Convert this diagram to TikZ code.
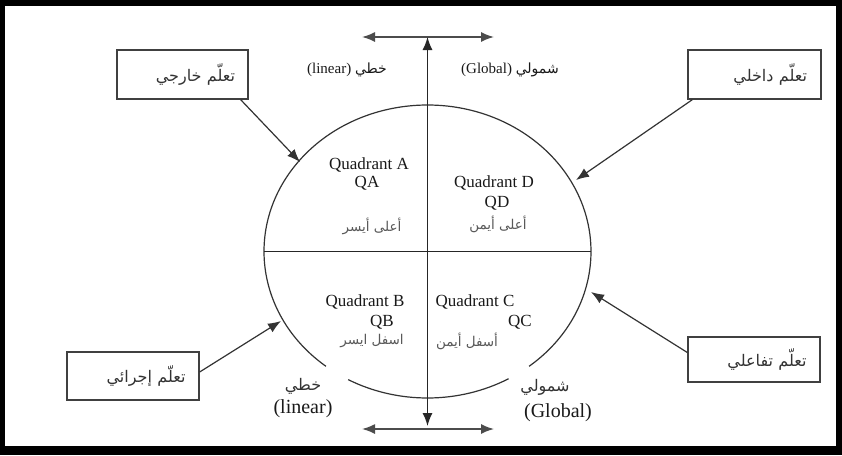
\documentclass[tikz,border=0pt]{standalone}
\usepackage{fontspec}
\setmainfont{Liberation Serif}
\newfontfamily\arabicfont[Script=Arabic]{DejaVu Sans}
\TeXXeTstate=1
\usetikzlibrary{arrows.meta}
\newcommand{\artxt}[1]{{\arabicfont\beginR #1\endR}}
\begin{document}
\begin{tikzpicture}[x=1pt,y=-1pt,
  lbox/.style={draw=black!75, line width=1.3pt, minimum height=49pt, text width=105pt,
    align=right, inner sep=0pt, font=\fontsize{16}{18}\selectfont, text=black!80},
  conn/.style={draw=black!80, line width=1.2pt, -{Latex[length=13pt,width=10pt]}},
  axis/.style={draw=black!85, line width=1.4pt},
  dbl/.style={draw=black!70, line width=1.6pt, {Latex[length=13pt,width=10pt]}-{Latex[length=13pt,width=10pt]}},
  quad/.style={font=\fontsize{17}{19}\selectfont, text=black!90, inner sep=0pt},
  qar/.style={font=\fontsize{13.5}{15}\selectfont, text=black!65, inner sep=0pt},
  toplab/.style={font=\fontsize{15}{17}\selectfont, text=black!90, inner sep=0pt},
  botlab/.style={font=\fontsize{20}{22}\selectfont, text=black!90, inner sep=0pt},
  botar/.style={font=\fontsize{16}{18}\selectfont, text=black!80, inner sep=0pt}]
% frame
\fill[black] (0,0) rectangle (842,455);
\fill[white] (5,6) rectangle (836,446);
\useasboundingbox (0,0) rectangle (842,455);
% ellipse
\coordinate (c) at (427.5,251.5);
\draw[black!80, line width=1.2pt] (c) ++(128.4:163.5 and 146.5)
  arc[start angle=128.4, end angle=411.6, x radius=163.5, y radius=146.5];
\draw[black!80, line width=1.2pt] (c) ++(60.3:163.5 and 146.5)
  arc[start angle=60.3, end angle=119, x radius=163.5, y radius=146.5];
% horizontal divider
\coordinate (hl) at (264,251.5);
\coordinate (hr) at (591,251.5);
\draw[axis] (hl) -- (hr);
% double arrows
\coordinate (tl) at (362,37);
\coordinate (tr) at (494,37);
\coordinate (bl) at (362,429);
\coordinate (br) at (494,429);
\draw[dbl] (tl) -- (tr);
\draw[dbl] (bl) -- (br);
% vertical axis
\coordinate (vt) at (427.5,37);
\coordinate (vb) at (427.5,426);
\draw[axis, {Latex[length=13pt,width=10pt]}-{Latex[length=13pt,width=10pt]}] (vt) -- (vb);
% boxes
\node[lbox, minimum width=131pt] (ext) at (182.5,74.5) {\artxt{تعلّم خارجي}};
\node[lbox, minimum width=133pt] (int) at (754.5,74.5) {\artxt{تعلّم داخلي}};
\node[lbox, minimum width=132pt, minimum height=48pt] (proc) at (133,376) {\artxt{تعلّم إجرائي}};
\node[lbox, minimum width=132pt, minimum height=45pt] (inter) at (754,359.5) {\artxt{تعلّم تفاعلي}};
% arrow targets on the ellipse
\coordinate (ta) at (300,162);
\coordinate (td) at (576,180);
\coordinate (tb) at (281,321);
\coordinate (tc) at (591,292);
\draw[conn] ([xshift=-8pt]ext.south east) -- (ta);
\draw[conn] ([xshift=5pt]int.south west) -- (td);
\draw[conn] ([yshift=4pt]proc.east) -- (tb);
\draw[conn] ([yshift=7pt]inter.west) -- (tc);
% quadrant texts
\node[quad] (qa1) at (369,165) {Quadrant A};
\node[quad] (qa2) at (367,183) {QA};
\node[qar] (qa3) at (372,226) {\artxt{أعلى أيسر}};
\node[quad] (qd1) at (494,183) {Quadrant D};
\node[quad] (qd2) at (497,203) {QD};
\node[qar] (qd3) at (498,224) {\artxt{أعلى أيمن}};
\node[quad] (qb1) at (365,302) {Quadrant B};
\node[quad] (qb2) at (382,322) {QB};
\node[qar] (qb3) at (372,341) {\artxt{اسفل ايسر}};
\node[quad] (qc1) at (475,302) {Quadrant C};
\node[quad] (qc2) at (520,322) {QC};
\node[qar] (qc3) at (467,341) {\artxt{أسفل أيمن}};
% top labels
\node[toplab] (lin1) at (347,70) {(linear) \artxt{\fontsize{14}{16}\selectfont خطي}};
\node[toplab] (glo1) at (510,70) {(Global) \artxt{\fontsize{14}{16}\selectfont شمولي}};
% bottom labels
\node[botar] (lin2a) at (303,386) {\artxt{خطي}};
\node[botlab] (lin2b) at (303,409) {(linear)};
\node[botar] (glo2a) at (545,387) {\artxt{شمولي}};
\node[botlab] (glo2b) at (558,413) {(Global)};
\end{tikzpicture}
\end{document}
